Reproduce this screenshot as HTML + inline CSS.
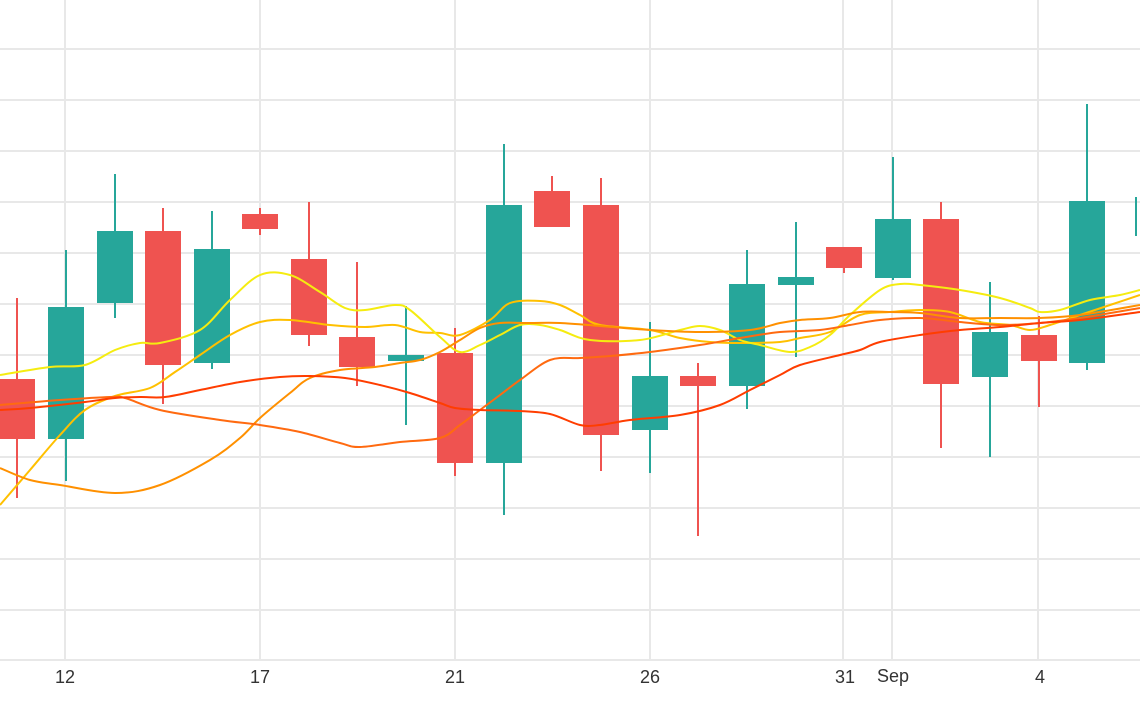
<!DOCTYPE html>
<html><head><meta charset="utf-8"><style>
html,body{margin:0;padding:0;background:#fff;width:1140px;height:710px;overflow:hidden}
svg text{font-family:"Liberation Sans",sans-serif;font-size:18px;fill:#333}
</style></head><body>
<svg id="s" width="1140" height="710" viewBox="0 0 1140 710">
<g stroke="#e8e8e8" stroke-width="2">
<line x1="0" y1="49" x2="1140" y2="49"/><line x1="0" y1="100" x2="1140" y2="100"/>
<line x1="0" y1="151" x2="1140" y2="151"/><line x1="0" y1="202" x2="1140" y2="202"/>
<line x1="0" y1="253" x2="1140" y2="253"/><line x1="0" y1="304" x2="1140" y2="304"/>
<line x1="0" y1="355" x2="1140" y2="355"/><line x1="0" y1="406" x2="1140" y2="406"/>
<line x1="0" y1="457" x2="1140" y2="457"/><line x1="0" y1="508" x2="1140" y2="508"/>
<line x1="0" y1="559" x2="1140" y2="559"/><line x1="0" y1="610" x2="1140" y2="610"/>
<line x1="0" y1="660" x2="1140" y2="660"/>
<line x1="65" y1="0" x2="65" y2="660"/><line x1="260" y1="0" x2="260" y2="660"/>
<line x1="455" y1="0" x2="455" y2="660"/><line x1="650" y1="0" x2="650" y2="660"/>
<line x1="843" y1="0" x2="843" y2="660"/><line x1="892" y1="0" x2="892" y2="660"/>
<line x1="1038" y1="0" x2="1038" y2="660"/>
</g>
<g text-anchor="middle">
<text x="65" y="683">12</text><text x="260" y="683">17</text><text x="455" y="683">21</text>
<text x="650" y="683">26</text><text x="845" y="683">31</text><text x="893" y="682">Sep</text>
<text x="1040" y="683">4</text>
</g>
<g stroke-width="2">
<g stroke="#ef5350" fill="#ef5350">
<line x1="17" y1="298" x2="17" y2="498"/><rect x="0" y="380" width="34" height="58"/>
<line x1="163" y1="208" x2="163" y2="404"/><rect x="146" y="232" width="34" height="132"/>
<line x1="260" y1="208" x2="260" y2="235"/><rect x="243" y="215" width="34" height="13"/>
<line x1="309" y1="202" x2="309" y2="346"/><rect x="292" y="260" width="34" height="74"/>
<line x1="357" y1="262" x2="357" y2="386"/><rect x="340" y="338" width="34" height="28"/>
<line x1="455" y1="328" x2="455" y2="476"/><rect x="438" y="354" width="34" height="108"/>
<line x1="552" y1="176" x2="552" y2="226"/><rect x="535" y="192" width="34" height="34"/>
<line x1="601" y1="178" x2="601" y2="471"/><rect x="584" y="206" width="34" height="228"/>
<line x1="698" y1="363" x2="698" y2="536"/><rect x="681" y="377" width="34" height="8"/>
<line x1="844" y1="248" x2="844" y2="273"/><rect x="827" y="248" width="34" height="19"/>
<line x1="941" y1="202" x2="941" y2="448"/><rect x="924" y="220" width="34" height="163"/>
<line x1="1039" y1="316" x2="1039" y2="407"/><rect x="1022" y="336" width="34" height="24"/>
</g>
<g stroke="#26a69a" fill="#26a69a">
<line x1="66" y1="250" x2="66" y2="481"/><rect x="49" y="308" width="34" height="130"/>
<line x1="115" y1="174" x2="115" y2="318"/><rect x="98" y="232" width="34" height="70"/>
<line x1="212" y1="211" x2="212" y2="369"/><rect x="195" y="250" width="34" height="112"/>
<line x1="406" y1="306" x2="406" y2="425"/><rect x="389" y="356" width="34" height="4"/>
<line x1="504" y1="144" x2="504" y2="515"/><rect x="487" y="206" width="34" height="256"/>
<line x1="650" y1="322" x2="650" y2="473"/><rect x="633" y="377" width="34" height="52"/>
<line x1="747" y1="250" x2="747" y2="409"/><rect x="730" y="285" width="34" height="100"/>
<line x1="796" y1="222" x2="796" y2="357"/><rect x="779" y="278" width="34" height="6"/>
<line x1="893" y1="157" x2="893" y2="280"/><rect x="876" y="220" width="34" height="57"/>
<line x1="990" y1="282" x2="990" y2="457"/><rect x="973" y="333" width="34" height="43"/>
<line x1="1087" y1="104" x2="1087" y2="370"/><rect x="1070" y="202" width="34" height="160"/>
<line x1="1136" y1="197" x2="1136" y2="236"/>
</g>
</g>
<g id="lines" fill="none" stroke-width="2" stroke-linejoin="round">
<polyline stroke="#ffc000" points="0,505 30,470 60,435 85,410 115,396 150,388 175,372 200,355 230,335 260,322 290,320 330,325 365,327 395,325 420,332 440,333 460,335 490,320 510,303 540,301 560,305 580,315 600,325 650,330 680,338 710,342 740,343 780,342 800,338 830,332 860,315 890,312 920,310 950,312 980,322 1010,325 1030,330 1050,325 1080,315 1110,305 1140,295"/>
<polyline stroke="#f5ec10" points="0,375 50,367 85,365 115,350 140,343 160,343 200,330 230,300 260,275 290,275 320,292 345,308 365,310 395,305 410,310 440,337 460,352 480,345 500,335 520,325 540,325 560,330 590,340 640,340 680,330 700,326 720,330 740,340 760,345 790,352 810,347 830,335 850,315 880,290 900,284 920,285 960,290 1000,298 1030,308 1040,312 1060,310 1090,300 1120,295 1140,290"/>
<polyline stroke="#ff9000" points="0,468 30,480 60,485 115,493 160,485 210,460 240,438 260,418 290,393 310,378 340,370 375,367 400,363 420,360 440,352 460,340 480,328 500,323 530,323 560,323 600,326 650,330 700,332 750,330 780,323 800,320 830,318 860,312 890,312 920,313 960,318 1000,318 1040,318 1080,315 1140,305"/>
<polyline stroke="#ff6a10" points="0,405 60,400 110,397 125,398 160,410 220,420 260,425 300,432 340,443 360,447 400,442 440,438 460,425 480,410 500,395 520,380 550,360 580,358 610,356 650,352 700,345 740,338 780,332 820,330 850,325 880,320 920,318 960,322 1000,325 1040,323 1080,318 1140,308"/>
<polyline stroke="#ff3d00" points="0,410 30,408 85,402 115,398 140,397 165,397 200,390 240,382 280,377 310,376 345,378 380,385 410,393 440,403 455,408 480,410 520,411 550,414 580,425 600,425 630,420 680,415 720,405 750,390 780,375 800,365 840,355 860,350 880,342 920,335 960,330 1000,327 1040,323 1080,320 1140,312"/>
</g>
</svg>
<script>
(function(){
var ns="http://www.w3.org/2000/svg";
var pls=document.querySelectorAll('#lines polyline');
for(var i=0;i<pls.length;i++){
 var pl=pls[i];
 var p=pl.getAttribute('points').trim().split(/\s+/).map(function(s){var a=s.split(',');return [+a[0],+a[1]];});
 var d='M'+p[0][0]+','+p[0][1];
 for(var k=0;k<p.length-1;k++){
  var p0=p[k-1]||p[k],p1=p[k],p2=p[k+1],p3=p[k+2]||p2;
  var c1x=p1[0]+(p2[0]-p0[0])/6,c1y=p1[1]+(p2[1]-p0[1])/6;
  var c2x=p2[0]-(p3[0]-p1[0])/6,c2y=p2[1]-(p3[1]-p1[1])/6;
  d+=' C'+c1x.toFixed(1)+','+c1y.toFixed(1)+' '+c2x.toFixed(1)+','+c2y.toFixed(1)+' '+p2[0]+','+p2[1];
 }
 var path=document.createElementNS(ns,'path');
 path.setAttribute('d',d);path.setAttribute('stroke',pl.getAttribute('stroke'));
 pl.parentNode.replaceChild(path,pl);
}
})();
</script>
</body></html>
